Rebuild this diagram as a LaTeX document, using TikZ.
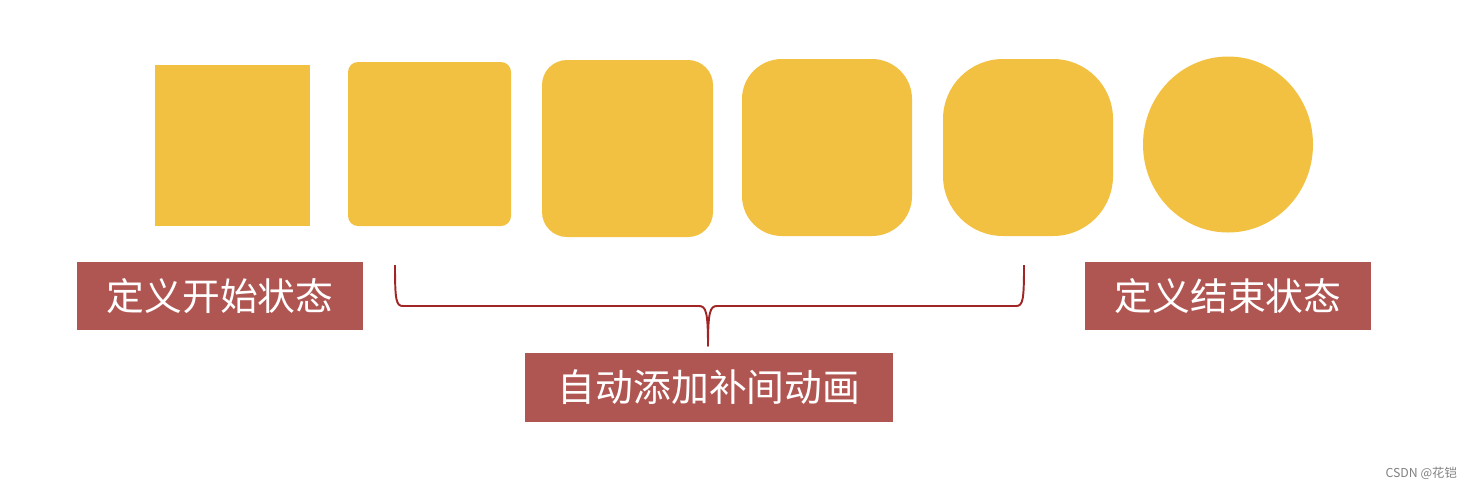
\documentclass[tikz,border=0pt]{standalone}
\usepackage{fontspec}
\setmainfont{Noto Sans CJK SC}
\usepackage{tikz}

\definecolor{shapeyellow}{HTML}{F2C141}
\definecolor{labelred}{HTML}{B05652}
\definecolor{bracered}{HTML}{A12525}

\tikzset{
	shp/.style={fill=shapeyellow},
	lbl/.style={fill=labelred, text=white, inner sep=0pt,
		font=\fontsize{21.5}{25}\selectfont},
}

\begin{document}
\begin{tikzpicture}[x=0.02cm, y=-0.02cm]
	\useasboundingbox (0, 0) rectangle (1476, 488);

	% shapes, corners getting rounder
	\fill[shp] (155, 65) rectangle (310, 226);
	\fill[shp, rounded corners=0.2cm] (348, 62) rectangle (511, 226);
	\fill[shp, rounded corners=0.5cm] (542, 60) rectangle (713, 237);
	\fill[shp, rounded corners=0.8cm] (742, 59) rectangle (912, 236);
	\fill[shp, rounded corners=1.2cm] (943, 59) rectangle (1113, 236);
	\fill[shp] (1228, 144.5) ellipse [x radius=85, y radius=88];

	% labels
	\node[lbl, minimum width=0.02cm*286, minimum height=0.02cm*68] (begin) at (220, 296) {定义开始状态};
	\node[lbl, minimum width=0.02cm*286, minimum height=0.02cm*68] (end) at (1228, 296) {定义结束状态};
	\node[lbl, minimum width=0.02cm*368, minimum height=0.02cm*69] (tween) at (709, 387.5) {自动添加补间动画};

	% brace over the tween shapes
	\coordinate (bl) at (395, 265);
	\coordinate (br) at (1024, 265);
	\coordinate (tip) at (708, 346);
	\draw[bracered, line width=1.1pt, line join=round]
		(bl) .. controls (395, 300) and (396, 306) .. (403, 306)
		-- (699, 306) .. controls (706, 306) and (708, 312) .. (tip)
		.. controls (708, 312) and (710, 306) .. (717, 306)
		-- (1016, 306) .. controls (1023, 306) and (1024, 300) .. (br);

	% watermark
	\node[text=gray, font=\fontsize{7}{8}\selectfont, anchor=east] (mark) at (1463, 473) {CSDN @花铠};
\end{tikzpicture}
\end{document}
